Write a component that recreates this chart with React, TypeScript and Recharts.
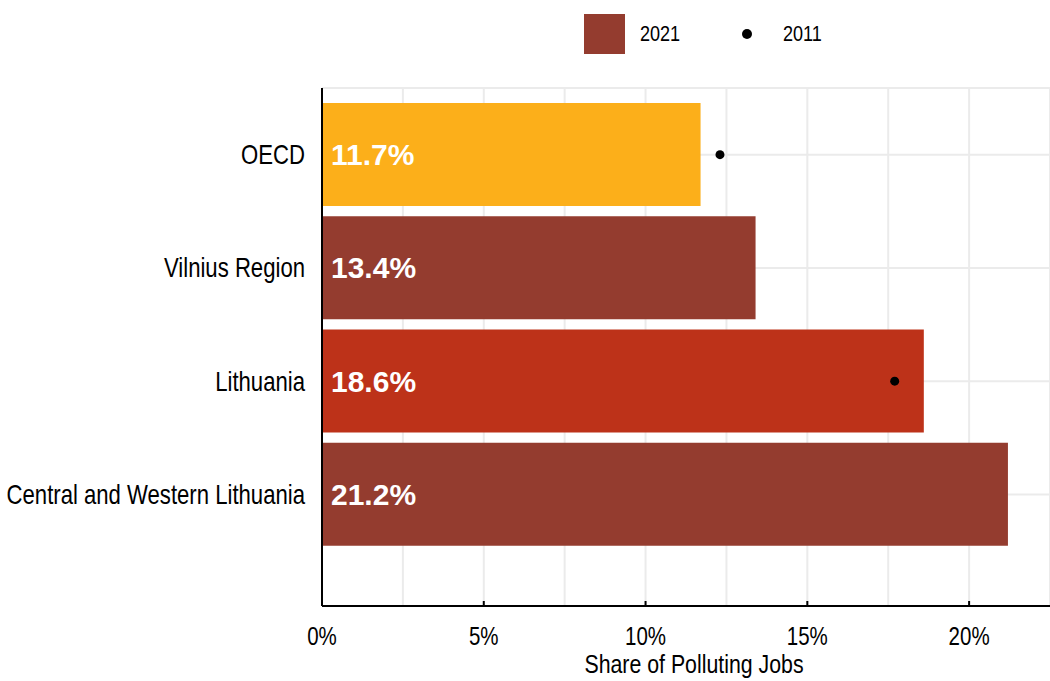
import {
  Bar,
  CartesianGrid,
  Cell,
  ComposedChart,
  LabelList,
  Line,
  XAxis,
  YAxis,
} from "recharts";

const regions = ["OECD", "Vilnius Region", "Lithuania", "Central and Western Lithuania"];
const share2021 = [11.7, 13.4, 18.6, 21.2];
const share2011: (number | null)[] = [12.3, null, 17.7, null];
const barColors = ["#FCAF1A", "#943C2F", "#BD3219", "#943C2F"];
const xTicks = [0, 2.5, 5, 7.5, 10, 12.5, 15, 17.5, 20, 22.5];

const FONT = '"Liberation Sans", Arial, sans-serif';
// the reference uses a narrow face; squeeze the regular one instead
const SQUEEZE = 0.82;

const chartData = regions.map((name, i) => ({
  name,
  y2021: share2021[i],
  y2011: share2011[i],
}));

function NarrowText({ x, y, size, anchor, children }: any) {
  return (
    <g transform={`translate(${x},${y}) scale(${SQUEEZE},1)`}>
      <text x={0} y={0} textAnchor={anchor} fontSize={size} fill="#000" fontFamily={FONT}>
        {children}
      </text>
    </g>
  );
}

function XTick(props: any) {
  const { x, y, payload } = props;
  if (payload.value % 5 !== 0) return null;
  return (
    <g>
      <line x1={x} x2={x} y1={y - 5} y2={y} stroke="#000" strokeWidth={2} />
      <NarrowText x={x} y={y + 39} size={25} anchor="middle">
        {payload.value}%
      </NarrowText>
    </g>
  );
}

function YTick(props: any) {
  const { x, y, payload } = props;
  return (
    <NarrowText x={x} y={y + 9.5} size={27} anchor="end">
      {payload.value}
    </NarrowText>
  );
}

function XLabel(props: any) {
  const vb = props.viewBox || {};
  return (
    <NarrowText x={vb.x + vb.width / 2 + 8} y={vb.y + 67} size={26} anchor="middle">
      Share of Polluting Jobs
    </NarrowText>
  );
}

function Legend2() {
  const txt = {
    position: "absolute" as const,
    top: 21,
    transform: `scaleX(${SQUEEZE})`,
    transformOrigin: "left center",
  };
  return (
    <div
      style={{
        position: "absolute",
        left: 0,
        top: 0,
        width: 1050,
        height: 70,
        fontFamily: FONT,
        fontSize: 22,
        lineHeight: "26px",
        pointerEvents: "none",
      }}
    >
      <div style={{ position: "absolute", left: 584, top: 14, width: 41, height: 40, background: "#943C2F" }} />
      <div style={{ ...txt, left: 640 }}>2021</div>
      <div
        style={{
          position: "absolute",
          left: 742,
          top: 29,
          width: 10,
          height: 10,
          borderRadius: 5,
          background: "#000",
        }}
      />
      <div style={{ ...txt, left: 783 }}>2011</div>
    </div>
  );
}

export default function App() {
  return (
    <div style={{ position: "absolute", left: 0, top: 0, width: 1050, height: 681, background: "#fff" }}>
      <Legend2 />
      <ComposedChart
        width={1050}
        height={681}
        data={chartData}
        layout="vertical"
        margin={{ top: 88, right: 0, bottom: 0, left: 0 }}
        barSize={103}
      >
        <CartesianGrid stroke="#EBEBEB" strokeWidth={2} />
        <XAxis
          type="number"
          domain={[0, 22.5]}
          ticks={xTicks}
          interval={0}
          height={75}
          tickSize={0}
          tickMargin={0}
          tickLine={false}
          axisLine={{ stroke: "#000", strokeWidth: 2 }}
          tick={<XTick />}
          label={<XLabel />}
        />
        <YAxis
          type="category"
          dataKey="name"
          width={322}
          padding={{ top: 10, bottom: 55 }}
          tickSize={0}
          tickMargin={17}
          tickLine={false}
          axisLine={{ stroke: "#000", strokeWidth: 2 }}
          tick={<YTick />}
        />
        <Bar dataKey="y2021" isAnimationActive={false}>
          {chartData.map((d, i) => (
            <Cell key={d.name} fill={barColors[i]} />
          ))}
          <LabelList
            dataKey="y2021"
            position="insideLeft"
            offset={9}
            formatter={(v: any) => `${Number(v).toFixed(1)}%`}
            style={{ fill: "#fff", fontSize: 30, fontWeight: "bold", fontFamily: FONT }}
          />
        </Bar>
        <Line
          dataKey="y2011"
          stroke="none"
          strokeWidth={0}
          dot={{ r: 4.5, fill: "#000", stroke: "none" }}
          activeDot={false}
          legendType="circle"
          isAnimationActive={false}
        />
      </ComposedChart>
    </div>
  );
}
